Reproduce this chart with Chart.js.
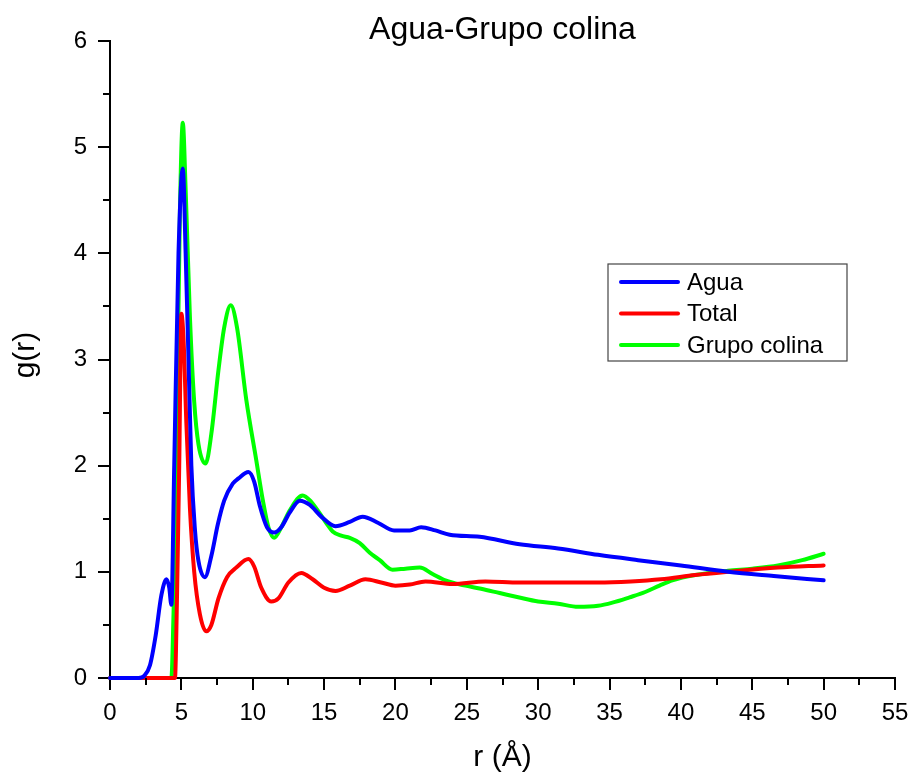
<!DOCTYPE html>
<html>
<head>
<meta charset="utf-8">
<script src="https://cdn.jsdelivr.net/npm/chart.js@4"></script>
<style>
  body { margin: 0; background: #fff; }
  #wrap { width: 912px; height: 776px; position: relative; }
</style>
</head>
<body>
<div id="wrap"><canvas id="gr-chart"></canvas></div>
<script>
// ─── Datos ────────────────────────────────────────────────────────────────────

const titulo = "Agua-Grupo colina";
const nombres = ["Agua", "Total", "Grupo colina"];
const colores = ["#0000ff", "#ff0000", "#00ff00"];

const aguaR = [0, 2.0, 2.4, 2.8, 3.2, 3.6, 3.96, 4.15, 4.3, 4.5, 4.8, 5.1, 5.3, 5.5, 5.7, 5.95, 6.2, 6.65, 7.1, 7.56, 8.0, 8.6, 9.0, 9.7, 10.1, 10.5, 11.0, 11.5, 12.0, 12.6, 13.3, 14.0, 14.8, 15.8, 16.8, 17.7, 18.8, 19.9, 21.0, 21.8, 22.8, 23.8, 25.9, 28.7, 31.4, 34.2, 37, 40, 43.3, 46.5, 50];
const aguaG = [0, 0, 0.02, 0.12, 0.4, 0.78, 0.93, 0.85, 0.69, 2.0, 4.0, 4.8, 4.0, 3.0, 2.0, 1.4, 1.1, 0.95, 1.15, 1.45, 1.67, 1.83, 1.88, 1.94, 1.85, 1.62, 1.42, 1.37, 1.42, 1.56, 1.67, 1.63, 1.52, 1.43, 1.47, 1.52, 1.46, 1.39, 1.39, 1.42, 1.39, 1.35, 1.33, 1.26, 1.22, 1.16, 1.11, 1.06, 1.0, 0.96, 0.92];

const totalR = [0, 4.55, 4.7, 4.85, 5.0, 5.15, 5.35, 5.6, 5.9, 6.3, 6.75, 7.1, 7.6, 8.2, 8.85, 9.7, 10.1, 10.6, 11.3, 11.8, 12.5, 13.4, 14.2, 15.0, 15.8, 16.8, 17.9, 19.0, 20.0, 21.0, 22.1, 24, 26.3, 28.7, 31, 34.2, 36.5, 38.6, 41, 43.3, 46.8, 50];
const totalG = [0, 0, 0.8, 2.0, 3.43, 3.2, 2.4, 1.6, 1.0, 0.6, 0.44, 0.5, 0.75, 0.95, 1.04, 1.12, 1.05, 0.85, 0.72, 0.75, 0.9, 0.99, 0.93, 0.85, 0.82, 0.87, 0.93, 0.9, 0.87, 0.88, 0.91, 0.885, 0.91, 0.9, 0.9, 0.9, 0.91, 0.93, 0.97, 1.0, 1.04, 1.06];

const colinaR = [0, 4.3, 4.45, 4.6, 4.75, 4.9, 5.1, 5.3, 5.6, 5.9, 6.2, 6.7, 7.1, 7.6, 8.0, 8.46, 8.9, 9.55, 10.25, 10.7, 11.1, 11.5, 12.0, 12.6, 13.5, 14.1, 14.7, 15.2, 15.6, 16.2, 16.8, 17.5, 18.2, 18.9, 19.8, 20.7, 21.7, 22.6, 23.5, 24.9, 26.0, 27.3, 28.6, 30.0, 31.4, 32.8, 34.2, 35.2, 36.4, 37.5, 38.5, 39.4, 41, 43.3, 45, 46.8, 48.5, 50];
const colinaG = [0, 0, 0.6, 1.5, 3.0, 4.4, 5.23, 4.6, 3.4, 2.6, 2.2, 2.02, 2.3, 2.9, 3.3, 3.51, 3.3, 2.62, 2.05, 1.68, 1.42, 1.32, 1.42, 1.58, 1.72, 1.66, 1.55, 1.45, 1.38, 1.34, 1.32, 1.27, 1.18, 1.11, 1.02, 1.03, 1.04, 0.98, 0.92, 0.87, 0.84, 0.80, 0.76, 0.72, 0.70, 0.67, 0.68, 0.71, 0.76, 0.81, 0.87, 0.92, 0.97, 1.01, 1.03, 1.06, 1.11, 1.17];

const series = [[aguaR, aguaG], [totalR, totalG], [colinaR, colinaG]];

// ─── Plugin: título, ejes, ticks menores y leyenda ────────────────────────────

const FONT = 'Arial, "Liberation Sans", sans-serif';

const decor = {
  id: "decor",
  afterDraw(chart) {
    const { ctx, chartArea: a, scales: { x, y } } = chart;
    ctx.save();
    ctx.fillStyle = "#000";
    ctx.strokeStyle = "#000";

    // título
    ctx.font = "32px " + FONT;
    ctx.textAlign = "center";
    ctx.textBaseline = "middle";
    ctx.fillText(titulo, (a.left + a.right) / 2, 30);

    // títulos de ejes
    ctx.font = "30px " + FONT;
    ctx.fillText("r (Å)", (a.left + a.right) / 2, 758);
    ctx.save();
    ctx.translate(26, 355);
    ctx.rotate(-Math.PI / 2);
    ctx.fillText("g(r)", 0, 0);
    ctx.restore();

    // ticks menores
    ctx.lineWidth = 2;
    ctx.beginPath();
    for (let v = 2.5; v < 55; v += 5) {
      const px = Math.round(x.getPixelForValue(v));
      ctx.moveTo(px, a.bottom);
      ctx.lineTo(px, a.bottom + 7);
    }
    for (let v = 0.5; v < 6; v += 1) {
      const py = Math.round(y.getPixelForValue(v));
      ctx.moveTo(a.left, py);
      ctx.lineTo(a.left - 7, py);
    }
    ctx.stroke();

    // leyenda
    const bx = 608, by = 264, bw = 239, bh = 97;
    ctx.lineWidth = 1.2;
    ctx.strokeStyle = "#444";
    ctx.strokeRect(bx, by, bw, bh);
    ctx.font = "24px " + FONT;
    ctx.textAlign = "left";
    chart.data.datasets.forEach((ds, i) => {
      const ly = 282 + i * 31.5;
      ctx.strokeStyle = ds.borderColor;
      ctx.lineWidth = 4;
      ctx.lineCap = "round";
      ctx.beginPath();
      ctx.moveTo(621, ly);
      ctx.lineTo(678, ly);
      ctx.stroke();
      ctx.fillStyle = "#000";
      ctx.fillText(ds.label, 687, ly + 1);
    });
    ctx.restore();
  }
};

// ─── Gráfico ──────────────────────────────────────────────────────────────────

const datasets = series.map(([rs, gs], i) => ({
  label: nombres[i],
  data: rs.map((r, k) => ({ x: r, y: gs[k] })),
  borderColor: colores[i],
  borderWidth: 4,
  borderCapStyle: "round",
  borderJoinStyle: "round",
  pointRadius: 0,
  cubicInterpolationMode: "monotone",
  clip: false,
}));

new Chart(document.getElementById("gr-chart"), {
  type: "line",
  data: { datasets },
  options: {
    responsive: true,
    maintainAspectRatio: false,
    animation: false,
    layout: { padding: { top: 41, right: 17, left: 0, bottom: 0 } },
    plugins: { legend: { display: false }, tooltip: { enabled: false } },
    scales: {
      x: {
        type: "linear",
        min: 0, max: 55,
        ticks: { stepSize: 5, color: "#000", font: { size: 24, family: FONT }, padding: 9, maxRotation: 0 },
        grid: { drawOnChartArea: false, tickLength: 12, color: "#000", lineWidth: 2 },
        border: { color: "#000", width: 2 },
        afterFit: s => { s.height = 98; s.paddingRight = 0; s.paddingLeft = 0; },
      },
      y: {
        min: 0, max: 6,
        ticks: { stepSize: 1, color: "#000", font: { size: 24, family: FONT }, padding: 11 },
        grid: { drawOnChartArea: false, tickLength: 12, color: "#000", lineWidth: 2 },
        border: { color: "#000", width: 2 },
        afterFit: s => { s.width = 110; s.paddingTop = 0; s.paddingBottom = 0; },
      }
    }
  },
  plugins: [decor]
});
</script>
</body>
</html>
